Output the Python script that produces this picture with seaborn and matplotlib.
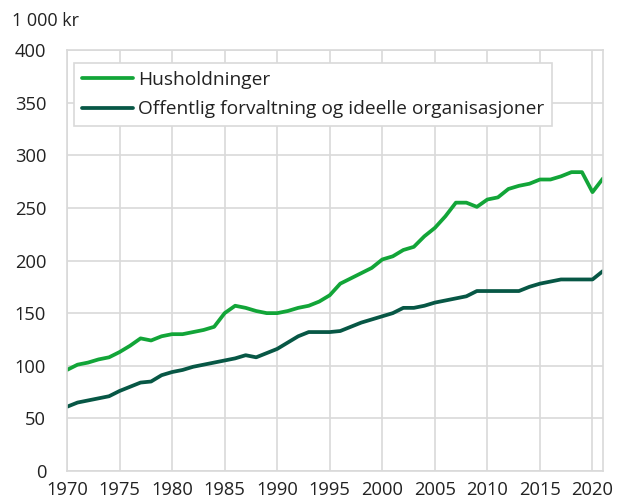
import numpy as np
import pandas as pd
import matplotlib
matplotlib.use("Agg")
import matplotlib.pyplot as plt
import seaborn as sns

years = list(range(1970, 2022))

husholdninger = [
    96, 101, 103, 106, 108, 113, 119, 126, 124, 128,
    130, 130, 132, 134, 137, 150, 157, 155, 152, 150,
    150, 152, 155, 157, 161, 167, 178, 183, 188, 193,
    201, 204, 210, 213, 223, 231, 242, 255, 255, 251,
    258, 260, 268, 271, 273, 277, 277, 280, 284, 284,
    265, 278,
]

offentlig = [
    61, 65, 67, 69, 71, 76, 80, 84, 85, 91,
    94, 96, 99, 101, 103, 105, 107, 110, 108, 112,
    116, 122, 128, 132, 132, 132, 133, 137, 141, 144,
    147, 150, 155, 155, 157, 160, 162, 164, 166, 171,
    171, 171, 171, 171, 175, 178, 180, 182, 182, 182,
    182, 190,
]

series_names = ["Husholdninger", "Offentlig forvaltning og ideelle organisasjoner"]
series_colors = ["#12a538", "#075745"]
x_ticks = list(range(1970, 2021, 5))
y_ticks = list(range(0, 401, 50))
unit_label = "1 000 kr"

df = pd.DataFrame({
    "År": years * 2,
    "Verdi": husholdninger + offentlig,
    "Sektor": [series_names[0]] * len(years) + [series_names[1]] * len(years),
})

sns.set_style("white")
plt.rcParams["font.family"] = ["Open Sans", "DejaVu Sans"]
plt.rcParams["font.size"] = 13

grid_color = "#d9d9d9"
text_color = "#222222"

fig = plt.figure(figsize=(6.17, 5.01), dpi=100)
ax = fig.add_axes([0.1086, 0.060, 0.8687, 0.840])

sns.lineplot(
    data=df, x="År", y="Verdi", hue="Sektor",
    palette=dict(zip(series_names, series_colors)),
    linewidth=2.7, ax=ax, legend=True,
)

ax.set_xlim(1970, 2021)
ax.set_ylim(0, 400)
ax.set_xticks(x_ticks)
ax.set_yticks(y_ticks)
ax.set_xlabel("")
ax.set_ylabel("")

ax.grid(True, color=grid_color, linewidth=1.2)
ax.set_axisbelow(True)
for side in ["left", "right", "bottom", "top"]:
    ax.spines[side].set_visible(True)
    ax.spines[side].set_color(grid_color)
    ax.spines[side].set_linewidth(1.2)

ax.tick_params(axis="both", length=0, labelsize=13.2, colors=text_color)
ax.tick_params(axis="y", pad=15)
ax.tick_params(axis="x", pad=7)

fig.text(12 / 617, 1 - 21 / 501, unit_label, fontsize=13, ha="left", va="center",
         color=text_color)

handles, labels = ax.get_legend_handles_labels()
leg = ax.legend(
    handles, labels, loc="upper left",
    bbox_to_anchor=(7 / 536, 1 - 13 / 421),
    borderaxespad=0, frameon=True, fancybox=False,
    fontsize=13.8, handlelength=2.66, handletextpad=0.28,
    labelspacing=0.6, borderpad=0.4,
)
leg.get_frame().set_edgecolor(grid_color)
leg.get_frame().set_linewidth(1.2)
leg.get_frame().set_facecolor("white")
leg.get_frame().set_alpha(1)
for t in leg.get_texts():
    t.set_color(text_color)
for line in leg.get_lines():
    line.set_linewidth(2.7)

fig.savefig("out.png", dpi=100)
